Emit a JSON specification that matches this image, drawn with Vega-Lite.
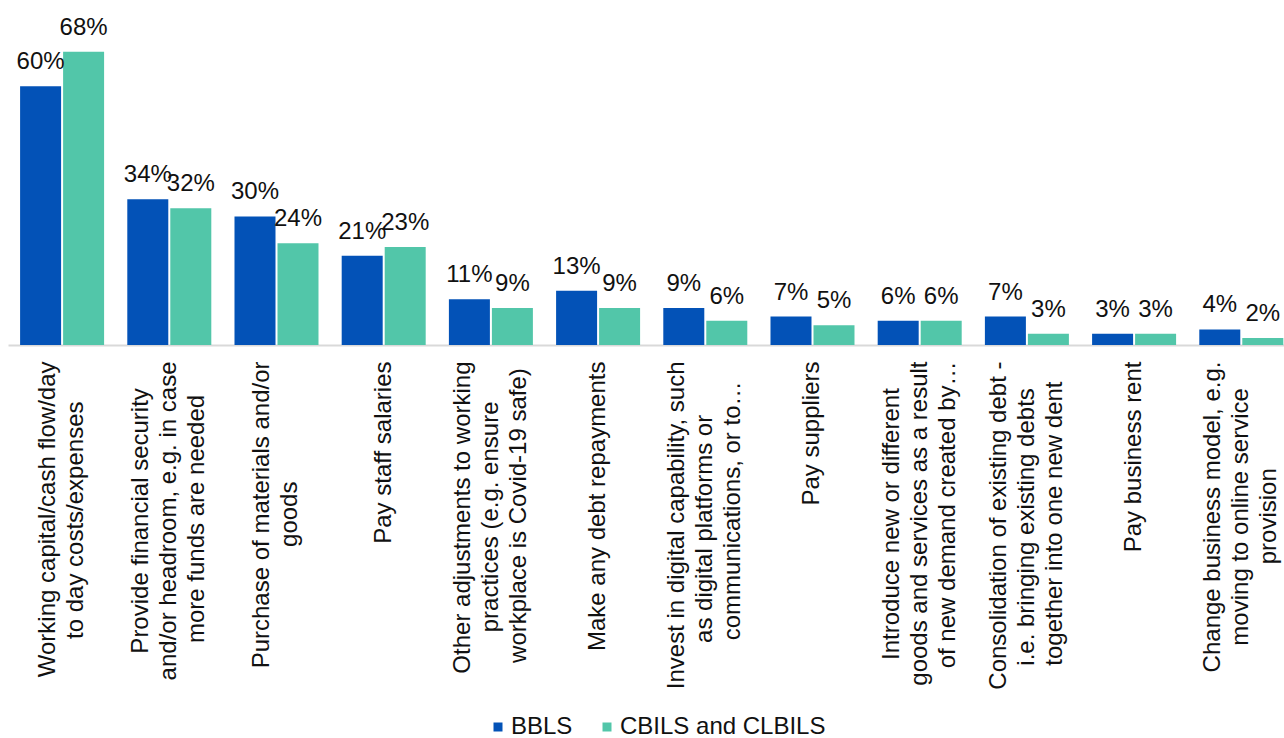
{
  "$schema": "https://vega.github.io/schema/vega-lite/v6.json",
  "autosize": {"type": "none"},
  "padding": {"left": 8, "top": 0, "right": 0, "bottom": 393},
  "width": 1276,
  "height": 345,
  "background": "white",
  "config": {
    "view": {"stroke": null},
    "font": "Liberation Sans",
    "text": {"font": "Liberation Sans"}
  },
  "data": {
    "values": [
      {"category": "Working capital/cash flow/day|to day costs/expenses\u00a0\u00a0\u00a0\u00a0\u00a0\u00a0\u200b", "series": "BBLS", "value": 0.60},
      {"category": "Working capital/cash flow/day|to day costs/expenses\u00a0\u00a0\u00a0\u00a0\u00a0\u00a0\u200b", "series": "CBILS and CLBILS", "value": 0.68},
      {"category": "Provide financial security\u00a0\u00a0\u00a0\u00a0\u200b|and/or headroom, e.g. in case|more funds are needed\u00a0\u00a0\u00a0\u00a0\u00a0\u200b", "series": "BBLS", "value": 0.338},
      {"category": "Provide financial security\u00a0\u00a0\u00a0\u00a0\u200b|and/or headroom, e.g. in case|more funds are needed\u00a0\u00a0\u00a0\u00a0\u00a0\u200b", "series": "CBILS and CLBILS", "value": 0.317},
      {"category": "Purchase of materials and/or|goods\u00a0\u00a0\u00a0\u00a0\u00a0\u00a0\u00a0\u00a0\u00a0\u00a0\u00a0\u00a0\u00a0\u00a0\u00a0\u00a0\u00a0\u00a0\u200b", "series": "BBLS", "value": 0.298},
      {"category": "Purchase of materials and/or|goods\u00a0\u00a0\u00a0\u00a0\u00a0\u00a0\u00a0\u00a0\u00a0\u00a0\u00a0\u00a0\u00a0\u00a0\u00a0\u00a0\u00a0\u00a0\u200b", "series": "CBILS and CLBILS", "value": 0.236},
      {"category": "Pay staff salaries", "series": "BBLS", "value": 0.207},
      {"category": "Pay staff salaries", "series": "CBILS and CLBILS", "value": 0.227},
      {"category": "Other adjustments to working|practices (e.g. ensure\u00a0\u00a0\u00a0\u00a0\u00a0\u00a0\u200b|workplace is Covid-19 safe)\u00a0\u200b", "series": "BBLS", "value": 0.106},
      {"category": "Other adjustments to working|practices (e.g. ensure\u00a0\u00a0\u00a0\u00a0\u00a0\u00a0\u200b|workplace is Covid-19 safe)\u00a0\u200b", "series": "CBILS and CLBILS", "value": 0.086},
      {"category": "Make any debt repayments", "series": "BBLS", "value": 0.126},
      {"category": "Make any debt repayments", "series": "CBILS and CLBILS", "value": 0.086},
      {"category": "Invest in digital capability, such|as digital platforms or\u00a0\u00a0\u00a0\u00a0\u00a0\u00a0\u00a0\u00a0\u200b|communications, or to…\u00a0\u00a0\u00a0\u200b", "series": "BBLS", "value": 0.086},
      {"category": "Invest in digital capability, such|as digital platforms or\u00a0\u00a0\u00a0\u00a0\u00a0\u00a0\u00a0\u00a0\u200b|communications, or to…\u00a0\u00a0\u00a0\u200b", "series": "CBILS and CLBILS", "value": 0.056},
      {"category": "Pay suppliers", "series": "BBLS", "value": 0.066},
      {"category": "Pay suppliers", "series": "CBILS and CLBILS", "value": 0.046},
      {"category": "Introduce new or different\u00a0\u00a0\u00a0\u00a0\u200b|goods and services as a result|of new demand created by…", "series": "BBLS", "value": 0.056},
      {"category": "Introduce new or different\u00a0\u00a0\u00a0\u00a0\u200b|goods and services as a result|of new demand created by…", "series": "CBILS and CLBILS", "value": 0.056},
      {"category": "Consolidation of existing debt -|i.e. bringing existing debts\u00a0\u00a0\u00a0\u00a0\u200b|together into one new dent\u00a0\u00a0\u00a0\u200b", "series": "BBLS", "value": 0.066},
      {"category": "Consolidation of existing debt -|i.e. bringing existing debts\u00a0\u00a0\u00a0\u00a0\u200b|together into one new dent\u00a0\u00a0\u00a0\u200b", "series": "CBILS and CLBILS", "value": 0.026},
      {"category": "Pay business rent", "series": "BBLS", "value": 0.026},
      {"category": "Pay business rent", "series": "CBILS and CLBILS", "value": 0.026},
      {"category": "Change business model, e.g.|moving to online service\u00a0\u00a0\u00a0\u00a0\u200b|provision\u00a0\u00a0\u00a0\u00a0\u00a0\u00a0\u00a0\u00a0\u00a0\u00a0\u00a0\u00a0\u00a0\u00a0\u00a0\u00a0\u200b", "series": "BBLS", "value": 0.036},
      {"category": "Change business model, e.g.|moving to online service\u00a0\u00a0\u00a0\u00a0\u200b|provision\u00a0\u00a0\u00a0\u00a0\u00a0\u00a0\u00a0\u00a0\u00a0\u00a0\u00a0\u00a0\u00a0\u00a0\u00a0\u00a0\u200b", "series": "CBILS and CLBILS", "value": 0.016}
    ]
  },
  "encoding": {
    "x": {
      "field": "category",
      "type": "nominal",
      "sort": null,
      "scale": {"paddingInner": 0.2164, "paddingOuter": 0.0597, "align": 0.945},
      "axis": {
        "title": null,
        "labelExpr": "split(datum.label, '|')",
        "labelAngle": -90,
        "labelAlign": "right",
        "labelBaseline": "middle",
        "labelFont": "Liberation Sans",
        "labelFontSize": 24,
        "labelColor": "#111111",
        "labelLineHeight": 28,
        "labelLimit": 600,
        "labelOverlap": false,
        "labelPadding": 16,
        "labelOffset": {
          "condition": [
            {"test": "length(split(datum.value, '|')) == 3", "value": -28},
            {"test": "length(split(datum.value, '|')) == 2", "value": -14}
          ],
          "value": 0
        },
        "ticks": false,
        "tickSize": 0,
        "domainColor": "#D9D9D9",
        "domainWidth": 2,
        "grid": false
      }
    },
    "xOffset": {
      "field": "series",
      "type": "nominal",
      "sort": ["BBLS", "CBILS and CLBILS"],
      "scale": {"paddingInner": 0.0465, "paddingOuter": 0}
    },
    "y": {
      "field": "value",
      "type": "quantitative",
      "scale": {"domain": [0, 0.8], "nice": false},
      "axis": null
    }
  },
  "layer": [
    {
      "mark": {"type": "bar"},
      "encoding": {
        "color": {
          "field": "series",
          "type": "nominal",
          "scale": {"domain": ["BBLS", "CBILS and CLBILS"], "range": ["#0352B7", "#52C6A9"]},
          "legend": {
            "title": null,
            "orient": "none",
            "direction": "horizontal",
            "legendX": 478,
            "legendY": 715,
            "symbolType": "square",
            "symbolSize": 81,
            "symbolStrokeWidth": 0,
            "labelFont": "Liberation Sans",
            "labelFontSize": 24,
            "labelColor": "#111111",
            "labelOffset": 1,
            "columnPadding": 22,
            "padding": 0,
            "labelLimit": 400
          }
        }
      }
    },
    {
      "mark": {"type": "text", "baseline": "alphabetic", "align": "center", "dy": -17, "fontSize": 24, "font": "Liberation Sans", "color": "#111111"},
      "encoding": {
        "text": {"field": "value", "type": "quantitative", "format": ".0%"}
      }
    }
  ]
}
